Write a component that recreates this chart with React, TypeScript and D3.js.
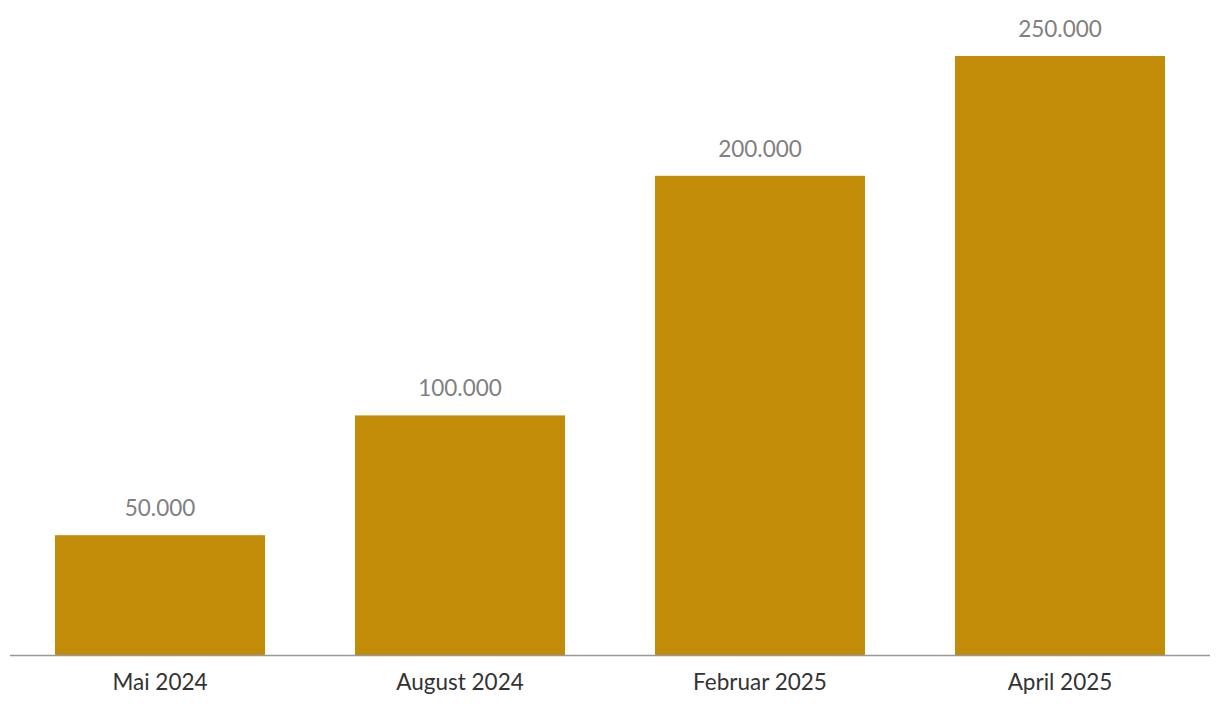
import React from "react";
import * as d3 from "d3";

const categories = ["Mai 2024", "August 2024", "Februar 2025", "April 2025"];
const values = [50000, 100000, 200000, 250000];
const valueLabels = ["50.000", "100.000", "200.000", "250.000"];

const W = 1220;
const H = 720;
const baseY = 655;
const FONT = "Lato, 'Source Sans Pro', 'Noto Sans', sans-serif";

export default function App() {
  const x = d3.scaleBand<string>().domain(categories).range([10, 1210]).paddingInner(0.3).paddingOuter(0.15);
  const y = d3.scaleLinear().domain([0, 250000]).range([baseY, 56]);
  return (
    <svg width={W} height={H} style={{ position: "absolute", left: 0, top: 0, background: "#fff" }}>
      {categories.map((c, i) => {
        const bx = x(c)!;
        const by = y(values[i]);
        const cx = bx + x.bandwidth() / 2;
        return (
          <g key={c}>
            <rect x={bx} y={by} width={x.bandwidth()} height={baseY - by} fill="#C28C08" />
            <text x={cx} y={by - 19} textAnchor="middle" fontFamily={FONT} fontSize={22.5} fill="#808080">
              {valueLabels[i]}
            </text>
            <text x={cx} y={baseY + 35} textAnchor="middle" fontFamily={FONT} fontSize={22.5} fill="#333333">
              {c}
            </text>
          </g>
        );
      })}
      <line x1={10} x2={1210} y1={baseY + 0.5} y2={baseY + 0.5} stroke="#999999" strokeWidth={1.5} />
    </svg>
  );
}
